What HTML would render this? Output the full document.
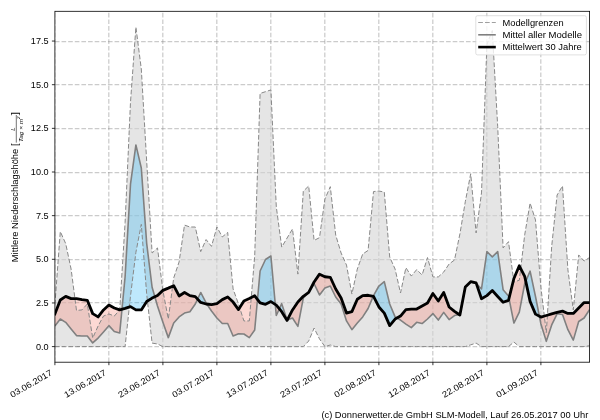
<!DOCTYPE html>
<html lang="de"><head><meta charset="utf-8"><title>Mittlere Niederschlagshöhe</title>
<style>
html,body{margin:0;padding:0;background:#fff;}
body{width:600px;height:420px;overflow:hidden;}
svg{display:block;will-change:transform;}
text{font-family:"Liberation Sans",sans-serif;font-size:8.60px;fill:#000;}
</style></head><body>
<svg width="600" height="420" viewBox="0 0 600 420">
<rect x="0" y="0" width="600" height="420" fill="#ffffff"/>
<defs><clipPath id="ax"><rect x="54.90" y="11.30" width="534.70" height="350.90"/></clipPath></defs>
<g clip-path="url(#ax)">
<g stroke="#808080" stroke-opacity="0.41" stroke-width="1.25" stroke-dasharray="4.63 2" fill="none">
<path d="M54.80,362.20 V11.30"/>
<path d="M108.80,362.20 V11.30"/>
<path d="M162.80,362.20 V11.30"/>
<path d="M216.80,362.20 V11.30"/>
<path d="M270.80,362.20 V11.30"/>
<path d="M324.80,362.20 V11.30"/>
<path d="M378.80,362.20 V11.30"/>
<path d="M432.80,362.20 V11.30"/>
<path d="M486.80,362.20 V11.30"/>
<path d="M540.80,362.20 V11.30"/>
<path d="M54.90,346.50 H589.60"/>
<path d="M54.90,302.50 H589.60"/>
<path d="M54.90,259.50 H589.60"/>
<path d="M54.90,215.50 H589.60"/>
<path d="M54.90,172.50 H589.60"/>
<path d="M54.90,128.50 H589.60"/>
<path d="M54.90,84.50 H589.60"/>
<path d="M54.90,41.50 H589.60"/>
</g>
<path d="M54.90,304.70 L60.30,231.54 L65.70,243.59 L71.10,269.08 L76.50,310.46 L81.90,309.93 L87.30,304.00 L92.70,338.04 L98.10,326.00 L103.50,316.05 L108.90,313.95 L114.30,316.05 L119.70,309.93 L125.10,222.63 L130.50,102.16 L135.90,27.08 L141.30,68.99 L146.70,161.52 L152.10,253.01 L157.50,247.95 L162.90,290.73 L168.30,319.01 L173.70,277.98 L179.10,261.92 L184.50,225.08 L189.90,227.00 L195.30,227.00 L200.70,251.62 L206.10,239.57 L211.50,246.38 L216.90,227.00 L222.30,236.95 L227.70,232.41 L233.10,288.98 L238.50,304.00 L243.90,320.93 L249.30,320.93 L254.70,255.81 L260.10,93.43 L265.50,91.68 L270.90,89.94 L276.30,206.92 L281.70,247.08 L287.10,238.00 L292.50,228.92 L297.90,274.14 L303.30,191.21 L308.70,185.97 L314.10,240.44 L319.50,237.65 L324.90,199.06 L330.30,186.67 L335.70,235.03 L341.10,253.01 L346.50,265.06 L351.90,294.05 L357.30,269.08 L362.70,254.06 L368.10,250.40 L373.50,191.56 L378.90,191.03 L384.30,192.08 L389.70,257.03 L395.10,269.08 L400.50,293.00 L405.90,267.68 L411.30,276.06 L416.70,269.60 L422.10,275.01 L427.50,257.55 L432.90,276.93 L438.30,276.93 L443.70,272.05 L449.10,264.01 L454.50,260.00 L459.90,233.98 L465.30,201.68 L470.70,173.75 L476.10,232.94 L481.50,192.95 L486.90,44.54 L492.30,30.57 L497.70,126.60 L503.10,247.95 L508.50,241.67 L513.90,282.00 L519.30,280.25 L524.70,234.86 L530.10,203.08 L535.50,220.02 L540.90,287.24 L546.30,332.63 L551.70,246.21 L557.10,195.05 L562.50,185.97 L567.90,269.78 L573.30,309.93 L578.70,254.94 L584.10,261.05 L589.50,257.55 L589.50,345.73 L584.10,346.60 L578.70,346.60 L573.30,346.60 L567.90,346.60 L562.50,346.60 L557.10,346.60 L551.70,346.60 L546.30,346.60 L540.90,346.60 L535.50,346.60 L530.10,346.60 L524.70,346.60 L519.30,346.60 L513.90,342.06 L508.50,346.60 L503.10,346.60 L497.70,346.60 L492.30,346.60 L486.90,346.60 L481.50,346.60 L476.10,343.11 L470.70,344.85 L465.30,346.60 L459.90,346.60 L454.50,346.60 L449.10,346.60 L443.70,346.60 L438.30,346.60 L432.90,346.60 L427.50,346.60 L422.10,346.60 L416.70,346.60 L411.30,346.60 L405.90,346.60 L400.50,346.60 L395.10,346.60 L389.70,346.60 L384.30,346.60 L378.90,346.60 L373.50,346.60 L368.10,346.60 L362.70,346.60 L357.30,346.60 L351.90,346.60 L346.50,346.60 L341.10,346.60 L335.70,346.60 L330.30,345.03 L324.90,346.60 L319.50,338.92 L314.10,328.09 L308.70,341.01 L303.30,346.60 L297.90,346.60 L292.50,346.60 L287.10,346.60 L281.70,346.60 L276.30,346.60 L270.90,346.60 L265.50,346.60 L260.10,346.60 L254.70,346.60 L249.30,346.60 L243.90,346.60 L238.50,346.60 L233.10,346.60 L227.70,346.60 L222.30,346.60 L216.90,346.60 L211.50,346.60 L206.10,346.60 L200.70,346.60 L195.30,346.60 L189.90,346.60 L184.50,346.60 L179.10,346.60 L173.70,346.60 L168.30,346.60 L162.90,346.60 L157.50,343.98 L152.10,343.11 L146.70,294.22 L141.30,224.38 L135.90,252.32 L130.50,295.97 L125.10,346.60 L119.70,346.60 L114.30,346.60 L108.90,346.60 L103.50,346.60 L98.10,346.60 L92.70,346.60 L87.30,346.60 L81.90,346.60 L76.50,346.60 L71.10,346.60 L65.70,346.60 L60.30,346.60 L54.90,346.60Z" fill="#d3d3d3" fill-opacity="0.6"/>
<path d="M54.90,326.00 L60.30,319.01 L65.70,322.33 L71.10,328.97 L76.50,335.60 L81.90,335.95 L87.30,335.95 L92.70,342.93 L98.10,338.04 L103.50,331.93 L108.90,325.65 L114.30,331.58 L119.70,332.98 L121.98,309.27 L121.98,309.27 L119.70,309.93 L114.30,308.01 L108.90,305.05 L103.50,309.93 L98.10,316.92 L92.70,313.60 L87.30,300.33 L81.90,299.63 L76.50,298.59 L71.10,298.59 L65.70,296.40 L60.30,299.98 L54.90,313.95Z" fill="rgb(250,128,114)" fill-opacity="0.3"/>
<path d="M154.84,296.73 L157.50,305.92 L162.90,322.33 L168.30,337.61 L173.70,323.03 L179.10,316.92 L184.50,313.08 L189.90,311.68 L195.30,304.00 L197.59,299.11 L197.59,299.11 L195.30,296.66 L189.90,295.62 L184.50,292.47 L179.10,295.97 L173.70,285.66 L168.30,288.11 L162.90,290.38 L157.50,295.44 L154.84,296.73Z" fill="rgb(250,128,114)" fill-opacity="0.3"/>
<path d="M206.85,304.07 L211.50,310.98 L216.90,317.97 L222.30,323.55 L227.70,323.55 L233.10,335.95 L238.50,333.68 L243.90,334.03 L249.30,337.61 L254.70,330.01 L257.49,299.49 L257.49,299.49 L254.70,295.79 L249.30,298.59 L243.90,301.03 L238.50,309.58 L233.10,302.08 L227.70,297.01 L222.30,299.63 L216.90,303.65 L211.50,304.52 L206.85,304.07Z" fill="rgb(250,128,114)" fill-opacity="0.3"/>
<path d="M275.29,304.39 L276.30,315.52 L279.36,308.80 L279.36,308.80 L276.30,305.05 L275.29,304.39Z" fill="rgb(250,128,114)" fill-opacity="0.3"/>
<path d="M287.32,319.97 L292.50,317.97 L297.90,326.35 L303.30,298.06 L308.70,292.47 L308.70,292.47 L303.30,296.32 L297.90,302.08 L292.50,309.93 L287.32,319.97Z" fill="rgb(250,128,114)" fill-opacity="0.3"/>
<path d="M308.70,292.47 L314.10,283.74 L319.50,294.92 L324.90,287.93 L330.30,286.01 L335.70,297.01 L341.10,304.00 L346.50,320.93 L351.90,329.66 L357.30,323.03 L362.70,316.92 L368.10,308.54 L373.23,296.26 L373.23,296.26 L368.10,295.27 L362.70,295.62 L357.30,299.28 L351.90,311.68 L346.50,313.08 L341.10,298.06 L335.70,288.98 L330.30,277.28 L324.90,276.76 L319.50,274.14 L314.10,282.00 L308.70,292.47Z" fill="rgb(250,128,114)" fill-opacity="0.3"/>
<path d="M396.95,318.00 L400.50,320.06 L405.90,324.08 L411.30,327.57 L416.70,322.33 L422.10,323.55 L427.50,319.01 L432.90,313.60 L438.30,320.06 L443.70,312.38 L449.10,319.54 L454.50,315.52 L459.30,314.59 L459.30,314.59 L454.50,311.33 L449.10,306.97 L443.70,292.47 L438.30,301.03 L432.90,293.52 L427.50,302.95 L422.10,305.92 L416.70,309.06 L411.30,309.06 L405.90,309.58 L400.50,316.05 L396.95,318.00Z" fill="rgb(250,128,114)" fill-opacity="0.3"/>
<path d="M463.14,298.13 L465.30,287.24 L470.70,282.00 L476.10,283.39 L476.37,283.68 L476.37,283.68 L476.10,282.87 L470.70,281.65 L465.30,286.89 L463.14,298.13Z" fill="rgb(250,128,114)" fill-opacity="0.3"/>
<path d="M508.98,298.38 L513.90,323.03 L519.30,312.03 L524.70,283.74 L525.75,281.29 L525.75,281.29 L524.70,276.41 L519.30,265.76 L513.90,278.51 L508.98,298.38Z" fill="rgb(250,128,114)" fill-opacity="0.3"/>
<path d="M539.40,316.27 L540.90,323.90 L546.30,341.36 L551.70,324.95 L557.10,313.78 L562.50,314.47 L567.90,329.66 L573.30,340.14 L578.70,321.46 L584.10,317.97 L589.50,309.76 L589.50,302.60 L584.10,302.60 L578.70,308.01 L573.30,313.43 L567.90,313.43 L562.50,311.16 L557.10,312.38 L551.70,313.95 L546.30,315.52 L540.90,317.09 L539.40,316.27Z" fill="rgb(250,128,114)" fill-opacity="0.3"/>
<path d="M121.98,309.27 L125.10,276.76 L130.50,184.22 L135.90,144.94 L141.30,167.98 L146.70,243.59 L152.10,287.24 L154.84,296.73 L154.84,296.73 L152.10,298.06 L146.70,301.55 L141.30,309.93 L135.90,309.93 L130.50,306.62 L125.10,308.36 L121.98,309.27Z" fill="rgb(40,178,245)" fill-opacity="0.3"/>
<path d="M197.59,299.11 L200.70,292.47 L206.10,302.95 L206.85,304.07 L206.85,304.07 L206.10,304.00 L200.70,302.43 L197.59,299.11Z" fill="rgb(40,178,245)" fill-opacity="0.3"/>
<path d="M257.49,299.49 L260.10,271.00 L265.50,259.47 L270.90,255.98 L275.29,304.39 L275.29,304.39 L270.90,301.55 L265.50,304.35 L260.10,302.95 L257.49,299.49Z" fill="rgb(40,178,245)" fill-opacity="0.3"/>
<path d="M279.36,308.80 L281.70,303.65 L287.10,320.06 L287.32,319.97 L287.32,319.97 L287.10,320.41 L281.70,311.68 L279.36,308.80Z" fill="rgb(40,178,245)" fill-opacity="0.3"/>
<path d="M373.23,296.26 L373.50,295.62 L378.90,286.01 L384.30,281.65 L389.70,304.00 L395.10,316.92 L396.95,318.00 L396.95,318.00 L395.10,319.01 L389.70,325.65 L384.30,313.08 L378.90,306.97 L373.50,296.32 L373.23,296.26Z" fill="rgb(40,178,245)" fill-opacity="0.3"/>
<path d="M459.30,314.59 L459.90,314.47 L463.14,298.13 L463.14,298.13 L459.90,315.00 L459.30,314.59Z" fill="rgb(40,178,245)" fill-opacity="0.3"/>
<path d="M476.37,283.68 L481.50,288.98 L486.90,251.62 L492.30,256.86 L497.70,251.62 L503.10,289.68 L508.50,295.97 L508.98,298.38 L508.98,298.38 L508.50,300.33 L503.10,302.25 L497.70,296.49 L492.30,290.55 L486.90,295.62 L481.50,298.76 L476.37,283.68Z" fill="rgb(40,178,245)" fill-opacity="0.3"/>
<path d="M525.75,281.29 L530.10,271.17 L535.50,296.49 L539.40,316.27 L539.40,316.27 L535.50,314.12 L530.10,301.38 L525.75,281.29Z" fill="rgb(40,178,245)" fill-opacity="0.3"/>
<path d="M54.90,304.70 L60.30,231.54 L65.70,243.59 L71.10,269.08 L76.50,310.46 L81.90,309.93 L87.30,304.00 L92.70,338.04 L98.10,326.00 L103.50,316.05 L108.90,313.95 L114.30,316.05 L119.70,309.93 L125.10,222.63 L130.50,102.16 L135.90,27.08 L141.30,68.99 L146.70,161.52 L152.10,253.01 L157.50,247.95 L162.90,290.73 L168.30,319.01 L173.70,277.98 L179.10,261.92 L184.50,225.08 L189.90,227.00 L195.30,227.00 L200.70,251.62 L206.10,239.57 L211.50,246.38 L216.90,227.00 L222.30,236.95 L227.70,232.41 L233.10,288.98 L238.50,304.00 L243.90,320.93 L249.30,320.93 L254.70,255.81 L260.10,93.43 L265.50,91.68 L270.90,89.94 L276.30,206.92 L281.70,247.08 L287.10,238.00 L292.50,228.92 L297.90,274.14 L303.30,191.21 L308.70,185.97 L314.10,240.44 L319.50,237.65 L324.90,199.06 L330.30,186.67 L335.70,235.03 L341.10,253.01 L346.50,265.06 L351.90,294.05 L357.30,269.08 L362.70,254.06 L368.10,250.40 L373.50,191.56 L378.90,191.03 L384.30,192.08 L389.70,257.03 L395.10,269.08 L400.50,293.00 L405.90,267.68 L411.30,276.06 L416.70,269.60 L422.10,275.01 L427.50,257.55 L432.90,276.93 L438.30,276.93 L443.70,272.05 L449.10,264.01 L454.50,260.00 L459.90,233.98 L465.30,201.68 L470.70,173.75 L476.10,232.94 L481.50,192.95 L486.90,44.54 L492.30,30.57 L497.70,126.60 L503.10,247.95 L508.50,241.67 L513.90,282.00 L519.30,280.25 L524.70,234.86 L530.10,203.08 L535.50,220.02 L540.90,287.24 L546.30,332.63 L551.70,246.21 L557.10,195.05 L562.50,185.97 L567.90,269.78 L573.30,309.93 L578.70,254.94 L584.10,261.05 L589.50,257.55" fill="none" stroke="#888888" stroke-width="1" stroke-dasharray="4.7 2.1"/>
<path d="M54.90,346.60 L60.30,346.60 L65.70,346.60 L71.10,346.60 L76.50,346.60 L81.90,346.60 L87.30,346.60 L92.70,346.60 L98.10,346.60 L103.50,346.60 L108.90,346.60 L114.30,346.60 L119.70,346.60 L125.10,346.60 L130.50,295.97 L135.90,252.32 L141.30,224.38 L146.70,294.22 L152.10,343.11 L157.50,343.98 L162.90,346.60 L168.30,346.60 L173.70,346.60 L179.10,346.60 L184.50,346.60 L189.90,346.60 L195.30,346.60 L200.70,346.60 L206.10,346.60 L211.50,346.60 L216.90,346.60 L222.30,346.60 L227.70,346.60 L233.10,346.60 L238.50,346.60 L243.90,346.60 L249.30,346.60 L254.70,346.60 L260.10,346.60 L265.50,346.60 L270.90,346.60 L276.30,346.60 L281.70,346.60 L287.10,346.60 L292.50,346.60 L297.90,346.60 L303.30,346.60 L308.70,341.01 L314.10,328.09 L319.50,338.92 L324.90,346.60 L330.30,345.03 L335.70,346.60 L341.10,346.60 L346.50,346.60 L351.90,346.60 L357.30,346.60 L362.70,346.60 L368.10,346.60 L373.50,346.60 L378.90,346.60 L384.30,346.60 L389.70,346.60 L395.10,346.60 L400.50,346.60 L405.90,346.60 L411.30,346.60 L416.70,346.60 L422.10,346.60 L427.50,346.60 L432.90,346.60 L438.30,346.60 L443.70,346.60 L449.10,346.60 L454.50,346.60 L459.90,346.60 L465.30,346.60 L470.70,344.85 L476.10,343.11 L481.50,346.60 L486.90,346.60 L492.30,346.60 L497.70,346.60 L503.10,346.60 L508.50,346.60 L513.90,342.06 L519.30,346.60 L524.70,346.60 L530.10,346.60 L535.50,346.60 L540.90,346.60 L546.30,346.60 L551.70,346.60 L557.10,346.60 L562.50,346.60 L567.90,346.60 L573.30,346.60 L578.70,346.60 L584.10,346.60 L589.50,345.73" fill="none" stroke="#888888" stroke-width="1" stroke-dasharray="4.7 2.1"/>
<path d="M54.90,326.00 L60.30,319.01 L65.70,322.33 L71.10,328.97 L76.50,335.60 L81.90,335.95 L87.30,335.95 L92.70,342.93 L98.10,338.04 L103.50,331.93 L108.90,325.65 L114.30,331.58 L119.70,332.98 L125.10,276.76 L130.50,184.22 L135.90,144.94 L141.30,167.98 L146.70,243.59 L152.10,287.24 L157.50,305.92 L162.90,322.33 L168.30,337.61 L173.70,323.03 L179.10,316.92 L184.50,313.08 L189.90,311.68 L195.30,304.00 L200.70,292.47 L206.10,302.95 L211.50,310.98 L216.90,317.97 L222.30,323.55 L227.70,323.55 L233.10,335.95 L238.50,333.68 L243.90,334.03 L249.30,337.61 L254.70,330.01 L260.10,271.00 L265.50,259.47 L270.90,255.98 L276.30,315.52 L281.70,303.65 L287.10,320.06 L292.50,317.97 L297.90,326.35 L303.30,298.06 L308.70,292.47 L314.10,283.74 L319.50,294.92 L324.90,287.93 L330.30,286.01 L335.70,297.01 L341.10,304.00 L346.50,320.93 L351.90,329.66 L357.30,323.03 L362.70,316.92 L368.10,308.54 L373.50,295.62 L378.90,286.01 L384.30,281.65 L389.70,304.00 L395.10,316.92 L400.50,320.06 L405.90,324.08 L411.30,327.57 L416.70,322.33 L422.10,323.55 L427.50,319.01 L432.90,313.60 L438.30,320.06 L443.70,312.38 L449.10,319.54 L454.50,315.52 L459.90,314.47 L465.30,287.24 L470.70,282.00 L476.10,283.39 L481.50,288.98 L486.90,251.62 L492.30,256.86 L497.70,251.62 L503.10,289.68 L508.50,295.97 L513.90,323.03 L519.30,312.03 L524.70,283.74 L530.10,271.17 L535.50,296.49 L540.90,323.90 L546.30,341.36 L551.70,324.95 L557.10,313.78 L562.50,314.47 L567.90,329.66 L573.30,340.14 L578.70,321.46 L584.10,317.97 L589.50,309.76" fill="none" stroke="#808080" stroke-width="1.6" stroke-linejoin="round"/>
<path d="M54.90,313.95 L60.30,299.98 L65.70,296.40 L71.10,298.59 L76.50,298.59 L81.90,299.63 L87.30,300.33 L92.70,313.60 L98.10,316.92 L103.50,309.93 L108.90,305.05 L114.30,308.01 L119.70,309.93 L125.10,308.36 L130.50,306.62 L135.90,309.93 L141.30,309.93 L146.70,301.55 L152.10,298.06 L157.50,295.44 L162.90,290.38 L168.30,288.11 L173.70,285.66 L179.10,295.97 L184.50,292.47 L189.90,295.62 L195.30,296.66 L200.70,302.43 L206.10,304.00 L211.50,304.52 L216.90,303.65 L222.30,299.63 L227.70,297.01 L233.10,302.08 L238.50,309.58 L243.90,301.03 L249.30,298.59 L254.70,295.79 L260.10,302.95 L265.50,304.35 L270.90,301.55 L276.30,305.05 L281.70,311.68 L287.10,320.41 L292.50,309.93 L297.90,302.08 L303.30,296.32 L308.70,292.47 L314.10,282.00 L319.50,274.14 L324.90,276.76 L330.30,277.28 L335.70,288.98 L341.10,298.06 L346.50,313.08 L351.90,311.68 L357.30,299.28 L362.70,295.62 L368.10,295.27 L373.50,296.32 L378.90,306.97 L384.30,313.08 L389.70,325.65 L395.10,319.01 L400.50,316.05 L405.90,309.58 L411.30,309.06 L416.70,309.06 L422.10,305.92 L427.50,302.95 L432.90,293.52 L438.30,301.03 L443.70,292.47 L449.10,306.97 L454.50,311.33 L459.90,315.00 L465.30,286.89 L470.70,281.65 L476.10,282.87 L481.50,298.76 L486.90,295.62 L492.30,290.55 L497.70,296.49 L503.10,302.25 L508.50,300.33 L513.90,278.51 L519.30,265.76 L524.70,276.41 L530.10,301.38 L535.50,314.12 L540.90,317.09 L546.30,315.52 L551.70,313.95 L557.10,312.38 L562.50,311.16 L567.90,313.43 L573.30,313.43 L578.70,308.01 L584.10,302.60 L589.50,302.60" fill="none" stroke="#000000" stroke-width="2.8" stroke-linejoin="round" stroke-linecap="square"/>
</g>
<rect x="54.90" y="11.30" width="534.70" height="350.90" fill="none" stroke="#000" stroke-width="0.8"/>
<g stroke="#000" stroke-width="0.8">
<path d="M54.90,362.20 v3"/>
<path d="M108.90,362.20 v3"/>
<path d="M162.90,362.20 v3"/>
<path d="M216.90,362.20 v3"/>
<path d="M270.90,362.20 v3"/>
<path d="M324.90,362.20 v3"/>
<path d="M378.90,362.20 v3"/>
<path d="M432.90,362.20 v3"/>
<path d="M486.90,362.20 v3"/>
<path d="M540.90,362.20 v3"/>
<path d="M54.90,346.60 h-3"/>
<path d="M54.90,302.95 h-3"/>
<path d="M54.90,259.30 h-3"/>
<path d="M54.90,215.65 h-3"/>
<path d="M54.90,172.00 h-3"/>
<path d="M54.90,128.35 h-3"/>
<path d="M54.90,84.70 h-3"/>
<path d="M54.90,41.05 h-3"/>
</g>
<text x="48.60" y="349.70" text-anchor="end" textLength="12.70" lengthAdjust="spacingAndGlyphs">0.0</text>
<text x="48.60" y="306.05" text-anchor="end" textLength="12.70" lengthAdjust="spacingAndGlyphs">2.5</text>
<text x="48.60" y="262.40" text-anchor="end" textLength="12.70" lengthAdjust="spacingAndGlyphs">5.0</text>
<text x="48.60" y="218.75" text-anchor="end" textLength="12.70" lengthAdjust="spacingAndGlyphs">7.5</text>
<text x="48.60" y="175.10" text-anchor="end" textLength="17.80" lengthAdjust="spacingAndGlyphs">10.0</text>
<text x="48.60" y="131.45" text-anchor="end" textLength="17.80" lengthAdjust="spacingAndGlyphs">12.5</text>
<text x="48.60" y="87.80" text-anchor="end" textLength="17.80" lengthAdjust="spacingAndGlyphs">15.0</text>
<text x="48.60" y="44.15" text-anchor="end" textLength="17.80" lengthAdjust="spacingAndGlyphs">17.5</text>
<text transform="translate(52.70,374.50) rotate(-30)" text-anchor="end" textLength="46.8" lengthAdjust="spacingAndGlyphs">03.06.2017</text>
<text transform="translate(106.70,374.50) rotate(-30)" text-anchor="end" textLength="46.8" lengthAdjust="spacingAndGlyphs">13.06.2017</text>
<text transform="translate(160.70,374.50) rotate(-30)" text-anchor="end" textLength="46.8" lengthAdjust="spacingAndGlyphs">23.06.2017</text>
<text transform="translate(214.70,374.50) rotate(-30)" text-anchor="end" textLength="46.8" lengthAdjust="spacingAndGlyphs">03.07.2017</text>
<text transform="translate(268.70,374.50) rotate(-30)" text-anchor="end" textLength="46.8" lengthAdjust="spacingAndGlyphs">13.07.2017</text>
<text transform="translate(322.70,374.50) rotate(-30)" text-anchor="end" textLength="46.8" lengthAdjust="spacingAndGlyphs">23.07.2017</text>
<text transform="translate(376.70,374.50) rotate(-30)" text-anchor="end" textLength="46.8" lengthAdjust="spacingAndGlyphs">02.08.2017</text>
<text transform="translate(430.70,374.50) rotate(-30)" text-anchor="end" textLength="46.8" lengthAdjust="spacingAndGlyphs">12.08.2017</text>
<text transform="translate(484.70,374.50) rotate(-30)" text-anchor="end" textLength="46.8" lengthAdjust="spacingAndGlyphs">22.08.2017</text>
<text transform="translate(538.70,374.50) rotate(-30)" text-anchor="end" textLength="46.8" lengthAdjust="spacingAndGlyphs">01.09.2017</text>
<g transform="translate(18.3,262.2) rotate(-90)">
<text x="0.00" y="0.00" text-anchor="start" textLength="118.70" lengthAdjust="spacingAndGlyphs">Mittlere Niederschlagshöhe [</text>
<path d="M119.6,-2.0 H147.2" stroke="#000" stroke-width="0.55"/>
<text x="133.1" y="-3.5" text-anchor="middle" font-style="italic" style="font-size:6px">L</text>
<text x="132.9" y="4.2" text-anchor="middle" font-style="italic" style="font-size:6.2px" textLength="25.6" lengthAdjust="spacingAndGlyphs">Tag × m<tspan dy="-2.2" style="font-size:4.3px">2</tspan></text>
<text x="147.00" y="0.00" text-anchor="start" textLength="3.25" lengthAdjust="spacingAndGlyphs">]</text>
</g>
<text x="588.30" y="418.00" text-anchor="end" textLength="266.90" lengthAdjust="spacingAndGlyphs">(c) Donnerwetter.de GmbH SLM-Modell, Lauf 26.05.2017 00 Uhr</text>
<rect x="475.8" y="15.7" width="110.6" height="39.2" rx="1.7" ry="1.7" fill="#ffffff" fill-opacity="0.8" stroke="#cccccc" stroke-opacity="0.8" stroke-width="0.8"/>
<path d="M478.2,22.5 H495.8" fill="none" stroke="#a0a0a0" stroke-width="1" stroke-dasharray="4.7 2.1"/>
<path d="M478.2,34.8 H495.8" fill="none" stroke="#808080" stroke-width="1.6"/>
<path d="M478.2,47.1 H495.8" fill="none" stroke="#000000" stroke-width="2.6"/>
<text x="502.50" y="25.50" text-anchor="start" textLength="61.06" lengthAdjust="spacingAndGlyphs">Modellgrenzen</text>
<text x="502.50" y="37.80" text-anchor="start" textLength="79.53" lengthAdjust="spacingAndGlyphs">Mittel aller Modelle</text>
<text x="502.50" y="50.10" text-anchor="start" textLength="79.23" lengthAdjust="spacingAndGlyphs">Mittelwert 30 Jahre</text>
</svg>
</body></html>
